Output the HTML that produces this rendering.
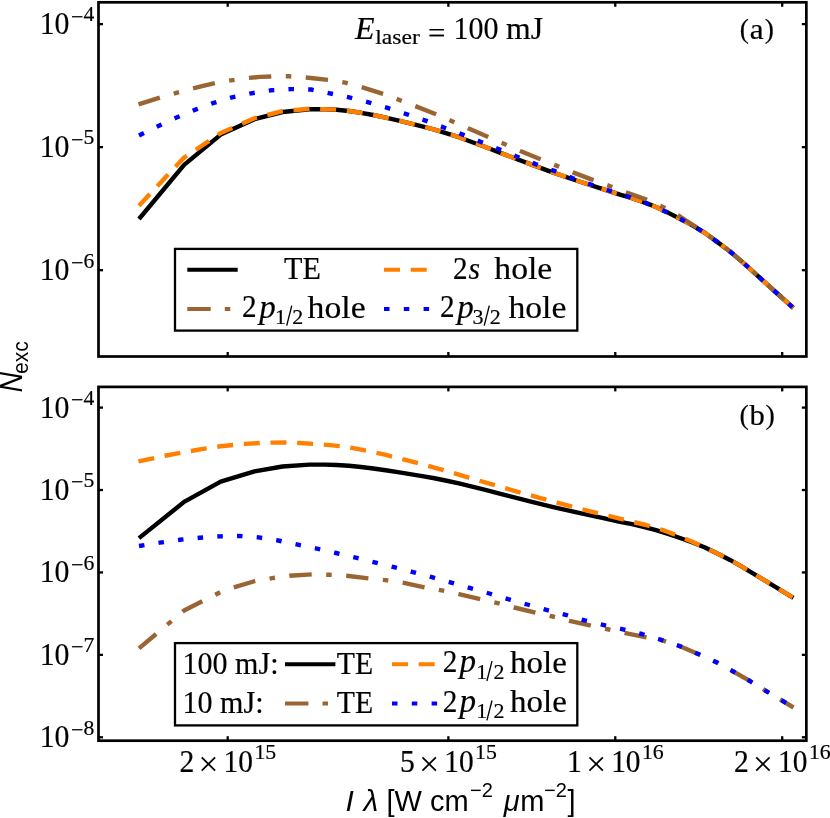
<!DOCTYPE html>
<html><head><meta charset="utf-8"><title>N_exc vs intensity</title>
<style>
html,body{margin:0;padding:0;background:#fff;}
body{width:830px;height:818px;overflow:hidden;font-family:"Liberation Serif",serif;}
svg{display:block;will-change:transform;transform:translateZ(0);}
</style></head>
<body>
<svg width="830" height="818" viewBox="0 0 830 818">
<rect x="0" y="0" width="830" height="818" fill="#ffffff"/>
<rect x="98.50" y="2.30" width="707.85" height="354.20" fill="none" stroke="#000" stroke-width="2.7"/>
<line x1="227.70" y1="2.30" x2="227.70" y2="6.80" stroke="#000" stroke-width="2.3"/>
<line x1="227.70" y1="356.50" x2="227.70" y2="352.00" stroke="#000" stroke-width="2.3"/>
<line x1="448.36" y1="2.30" x2="448.36" y2="6.80" stroke="#000" stroke-width="2.3"/>
<line x1="448.36" y1="356.50" x2="448.36" y2="352.00" stroke="#000" stroke-width="2.3"/>
<line x1="615.28" y1="2.30" x2="615.28" y2="6.80" stroke="#000" stroke-width="2.3"/>
<line x1="615.28" y1="356.50" x2="615.28" y2="352.00" stroke="#000" stroke-width="2.3"/>
<line x1="782.20" y1="2.30" x2="782.20" y2="6.80" stroke="#000" stroke-width="2.3"/>
<line x1="782.20" y1="356.50" x2="782.20" y2="352.00" stroke="#000" stroke-width="2.3"/>
<line x1="98.50" y1="24.10" x2="103.00" y2="24.10" stroke="#000" stroke-width="2.3"/>
<line x1="806.35" y1="24.10" x2="801.85" y2="24.10" stroke="#000" stroke-width="2.3"/>
<line x1="98.50" y1="147.15" x2="103.00" y2="147.15" stroke="#000" stroke-width="2.3"/>
<line x1="806.35" y1="147.15" x2="801.85" y2="147.15" stroke="#000" stroke-width="2.3"/>
<line x1="98.50" y1="270.20" x2="103.00" y2="270.20" stroke="#000" stroke-width="2.3"/>
<line x1="806.35" y1="270.20" x2="801.85" y2="270.20" stroke="#000" stroke-width="2.3"/>
<rect x="98.50" y="386.90" width="707.85" height="353.80" fill="none" stroke="#000" stroke-width="2.7"/>
<line x1="227.70" y1="386.90" x2="227.70" y2="391.40" stroke="#000" stroke-width="2.3"/>
<line x1="227.70" y1="740.70" x2="227.70" y2="736.20" stroke="#000" stroke-width="2.3"/>
<line x1="448.36" y1="386.90" x2="448.36" y2="391.40" stroke="#000" stroke-width="2.3"/>
<line x1="448.36" y1="740.70" x2="448.36" y2="736.20" stroke="#000" stroke-width="2.3"/>
<line x1="615.28" y1="386.90" x2="615.28" y2="391.40" stroke="#000" stroke-width="2.3"/>
<line x1="615.28" y1="740.70" x2="615.28" y2="736.20" stroke="#000" stroke-width="2.3"/>
<line x1="782.20" y1="386.90" x2="782.20" y2="391.40" stroke="#000" stroke-width="2.3"/>
<line x1="782.20" y1="740.70" x2="782.20" y2="736.20" stroke="#000" stroke-width="2.3"/>
<line x1="98.50" y1="407.60" x2="103.00" y2="407.60" stroke="#000" stroke-width="2.3"/>
<line x1="806.35" y1="407.60" x2="801.85" y2="407.60" stroke="#000" stroke-width="2.3"/>
<line x1="98.50" y1="490.02" x2="103.00" y2="490.02" stroke="#000" stroke-width="2.3"/>
<line x1="806.35" y1="490.02" x2="801.85" y2="490.02" stroke="#000" stroke-width="2.3"/>
<line x1="98.50" y1="572.44" x2="103.00" y2="572.44" stroke="#000" stroke-width="2.3"/>
<line x1="806.35" y1="572.44" x2="801.85" y2="572.44" stroke="#000" stroke-width="2.3"/>
<line x1="98.50" y1="654.86" x2="103.00" y2="654.86" stroke="#000" stroke-width="2.3"/>
<line x1="806.35" y1="654.86" x2="801.85" y2="654.86" stroke="#000" stroke-width="2.3"/>
<line x1="98.50" y1="737.28" x2="103.00" y2="737.28" stroke="#000" stroke-width="2.3"/>
<line x1="806.35" y1="737.28" x2="801.85" y2="737.28" stroke="#000" stroke-width="2.3"/>
<path d="M139.00 219.00 L184.10 164.90 L220.70 134.60 L254.50 119.20 L282.50 112.00 L309.50 109.30 L324.40 109.20 L336.70 109.70 L348.90 111.00 L361.10 112.80 L373.30 115.00 L385.60 117.70 L397.80 120.40 L410.00 123.30 L422.20 126.40 L434.50 129.60 L446.70 133.30 L458.90 137.20 L471.10 141.70 L483.40 146.30 L504.40 154.40 L528.90 163.65 L553.30 172.60 L577.80 181.00 L602.20 188.80 L620.00 194.60 L632.00 198.20 L644.40 202.40 L656.00 207.00 L668.90 213.10 L680.00 218.80 L693.30 225.85 L705.00 233.00 L717.80 242.35 L730.00 251.50 L742.20 261.90 L766.70 284.00 L793.40 308.00" fill="none" stroke="#000000" stroke-width="4.4" stroke-linejoin="round"/>
<path d="M139.00 205.80 L184.10 157.60 L220.70 133.00 L254.50 118.20 L282.50 111.20 L309.50 108.80 L324.40 109.20 L336.70 109.70 L348.90 111.00 L361.10 112.80 L373.30 115.00 L385.60 117.70 L397.80 120.40 L410.00 123.30 L422.20 126.40 L434.50 129.60 L446.70 133.30 L458.90 137.20 L471.10 141.70 L483.40 146.30 L504.40 154.40 L528.90 163.65 L553.30 172.60 L577.80 181.00 L602.20 188.80 L620.00 194.60 L632.00 198.20 L644.40 202.40 L656.00 207.00 L668.90 213.10 L680.00 218.80 L693.30 225.85 L705.00 233.00 L717.80 242.35 L730.00 251.50 L742.20 261.90 L766.70 284.00 L793.40 308.00" fill="none" stroke="#ff8000" stroke-width="4.4" stroke-linejoin="round" stroke-dasharray="16 10.7"/>
<path d="M138.50 104.40 L165.00 96.00 L184.10 90.60 L203.10 85.80 L220.70 81.80 L245.00 78.30 L260.00 76.90 L272.00 76.40 L288.70 76.30 L300.00 77.00 L313.20 78.20 L330.00 80.10 L345.20 82.60 L360.00 86.60 L385.00 94.40 L400.00 100.20 L416.00 106.40 L436.00 114.30 L452.00 121.20 L468.70 128.60 L488.50 137.20 L504.40 144.00 L520.30 151.00 L540.50 159.20 L557.00 165.90 L573.60 172.60 L592.00 179.60 L610.80 186.50 L626.70 192.60 L645.00 199.00 L664.00 207.50 L680.00 216.50 L690.00 223.00 L705.00 233.00 L717.80 242.35 L730.00 251.50 L742.20 261.90 L766.70 284.00 L793.40 308.00" fill="none" stroke="#996633" stroke-width="4.4" stroke-linejoin="round" stroke-dasharray="22.4 14.5 5.5 14.5"/>
<path d="M139.00 135.50 L158.40 126.00 L176.50 117.50 L194.80 109.90 L212.90 103.10 L232.00 97.40 L251.30 93.30 L270.90 90.30 L290.70 89.10 L311.00 89.50 L329.80 93.30 L349.10 97.40 L368.50 102.30 L387.50 107.90 L406.40 114.10 L424.90 120.40 L443.80 127.50 L462.10 134.40 L480.40 141.70 L498.40 149.00 L517.20 156.70 L535.70 164.10 L554.30 170.90 L572.90 178.20 L591.50 184.80 L610.10 191.00 L628.70 196.80 L647.50 203.70 L665.80 211.80 L680.00 218.80 L693.30 225.85 L705.00 233.00 L717.80 242.35 L730.00 251.50 L742.20 261.90 L766.70 284.00 L793.40 308.00" fill="none" stroke="#0000ff" stroke-width="4.4" stroke-linejoin="round" stroke-dasharray="5.5 14.23"/>
<path d="M139.00 538.15 L184.10 501.91 L220.70 481.61 L254.50 471.30 L282.50 466.48 L309.50 464.67 L324.40 464.60 L336.70 464.94 L348.90 465.81 L361.10 467.01 L373.30 468.49 L385.60 470.29 L397.80 472.10 L410.00 474.05 L422.20 476.12 L434.50 478.26 L446.70 480.74 L458.90 483.36 L471.10 486.37 L483.40 489.45 L504.40 494.88 L528.90 501.07 L553.30 507.07 L577.80 512.69 L602.20 517.92 L620.00 521.80 L632.00 524.21 L644.40 527.03 L656.00 530.11 L668.90 534.19 L680.00 538.01 L693.30 542.73 L705.00 547.52 L717.80 553.79 L730.00 559.91 L742.20 566.88 L766.70 581.68 L793.40 597.76" fill="none" stroke="#000000" stroke-width="4.4" stroke-linejoin="round"/>
<path d="M138.50 461.39 L165.00 455.76 L184.10 452.14 L203.10 448.93 L220.70 446.25 L245.00 443.90 L260.00 442.97 L272.00 442.63 L288.70 442.56 L300.00 443.03 L313.20 443.84 L330.00 445.11 L345.20 446.78 L360.00 449.46 L385.00 454.69 L400.00 458.57 L416.00 462.73 L436.00 468.02 L452.00 472.64 L468.70 477.60 L488.50 483.36 L504.40 487.91 L520.30 492.60 L540.50 498.09 L557.00 502.58 L573.60 507.07 L592.00 511.76 L610.80 516.38 L626.70 520.46 L645.00 524.75 L664.00 530.44 L680.00 536.47 L690.00 540.83 L705.00 547.52 L717.80 553.79 L730.00 559.91 L742.20 566.88 L766.70 581.68 L793.40 597.76" fill="none" stroke="#ff8000" stroke-width="4.4" stroke-linejoin="round" stroke-dasharray="16 10.7"/>
<path d="M139.00 648.40 L184.10 610.50 L220.70 592.00 L233.70 587.30 L255.20 581.00 L272.30 578.10 L289.40 575.70 L311.90 574.40 L329.30 574.80 L346.50 575.70 L368.90 578.40 L385.60 580.10 L402.70 582.60 L425.40 587.50 L441.80 590.40 L458.90 594.10 L480.90 599.20 L497.60 603.10 L514.20 607.50 L536.20 612.90 L552.90 616.50 L569.70 620.90 L591.70 625.80 L608.90 629.50 L625.50 633.20 L647.50 637.60 L661.10 639.90 L679.90 646.20 L698.20 654.00 L716.60 662.30 L733.70 671.70 L750.90 681.60 L767.50 691.90 L784.60 702.10 L793.50 707.50" fill="none" stroke="#996633" stroke-width="4.4" stroke-linejoin="round" stroke-dasharray="22.4 14.5 5.5 14.5"/>
<path d="M139.00 546.00 L159.90 542.70 L179.90 539.80 L199.50 537.80 L219.00 536.40 L239.10 535.90 L258.60 537.40 L278.20 540.50 L297.80 544.70 L316.70 548.60 L336.20 553.00 L355.70 557.70 L374.60 562.30 L394.10 567.20 L413.00 572.10 L432.00 577.20 L451.10 582.60 L470.40 588.20 L489.40 593.50 L508.10 599.20 L527.20 604.50 L546.50 609.90 L565.60 614.80 L584.60 620.40 L604.00 625.10 L623.00 629.30 L642.00 634.00 L661.10 639.90 L679.90 646.20 L698.20 654.00 L716.60 662.30 L733.70 671.70 L750.90 681.60 L767.50 691.90 L784.60 702.10 L793.50 707.50" fill="none" stroke="#0000ff" stroke-width="4.4" stroke-linejoin="round" stroke-dasharray="5.5 14.23"/>
<text x="39.70" y="34.00" font-family="'Liberation Serif', serif" font-size="30.7" textLength="29.80" lengthAdjust="spacingAndGlyphs" text-anchor="start" stroke="#000" stroke-width="0.2">10</text>
<text x="71.00" y="23.50" font-family="'Liberation Serif', serif" font-size="21.5" textLength="12.40" lengthAdjust="spacingAndGlyphs" text-anchor="start" stroke="#000" stroke-width="0.2">−</text>
<text x="83.60" y="21.40" font-family="'Liberation Serif', serif" font-size="21.5" textLength="10.80" lengthAdjust="spacingAndGlyphs" text-anchor="start" stroke="#000" stroke-width="0.2">4</text>
<text x="39.70" y="157.05" font-family="'Liberation Serif', serif" font-size="30.7" textLength="29.80" lengthAdjust="spacingAndGlyphs" text-anchor="start" stroke="#000" stroke-width="0.2">10</text>
<text x="71.00" y="146.55" font-family="'Liberation Serif', serif" font-size="21.5" textLength="12.40" lengthAdjust="spacingAndGlyphs" text-anchor="start" stroke="#000" stroke-width="0.2">−</text>
<text x="83.60" y="144.45" font-family="'Liberation Serif', serif" font-size="21.5" textLength="10.80" lengthAdjust="spacingAndGlyphs" text-anchor="start" stroke="#000" stroke-width="0.2">5</text>
<text x="39.70" y="280.10" font-family="'Liberation Serif', serif" font-size="30.7" textLength="29.80" lengthAdjust="spacingAndGlyphs" text-anchor="start" stroke="#000" stroke-width="0.2">10</text>
<text x="71.00" y="269.60" font-family="'Liberation Serif', serif" font-size="21.5" textLength="12.40" lengthAdjust="spacingAndGlyphs" text-anchor="start" stroke="#000" stroke-width="0.2">−</text>
<text x="83.60" y="267.50" font-family="'Liberation Serif', serif" font-size="21.5" textLength="10.80" lengthAdjust="spacingAndGlyphs" text-anchor="start" stroke="#000" stroke-width="0.2">6</text>
<text x="39.70" y="417.50" font-family="'Liberation Serif', serif" font-size="30.7" textLength="29.80" lengthAdjust="spacingAndGlyphs" text-anchor="start" stroke="#000" stroke-width="0.2">10</text>
<text x="71.00" y="407.00" font-family="'Liberation Serif', serif" font-size="21.5" textLength="12.40" lengthAdjust="spacingAndGlyphs" text-anchor="start" stroke="#000" stroke-width="0.2">−</text>
<text x="83.60" y="404.90" font-family="'Liberation Serif', serif" font-size="21.5" textLength="10.80" lengthAdjust="spacingAndGlyphs" text-anchor="start" stroke="#000" stroke-width="0.2">4</text>
<text x="39.70" y="499.92" font-family="'Liberation Serif', serif" font-size="30.7" textLength="29.80" lengthAdjust="spacingAndGlyphs" text-anchor="start" stroke="#000" stroke-width="0.2">10</text>
<text x="71.00" y="489.42" font-family="'Liberation Serif', serif" font-size="21.5" textLength="12.40" lengthAdjust="spacingAndGlyphs" text-anchor="start" stroke="#000" stroke-width="0.2">−</text>
<text x="83.60" y="487.32" font-family="'Liberation Serif', serif" font-size="21.5" textLength="10.80" lengthAdjust="spacingAndGlyphs" text-anchor="start" stroke="#000" stroke-width="0.2">5</text>
<text x="39.70" y="582.34" font-family="'Liberation Serif', serif" font-size="30.7" textLength="29.80" lengthAdjust="spacingAndGlyphs" text-anchor="start" stroke="#000" stroke-width="0.2">10</text>
<text x="71.00" y="571.84" font-family="'Liberation Serif', serif" font-size="21.5" textLength="12.40" lengthAdjust="spacingAndGlyphs" text-anchor="start" stroke="#000" stroke-width="0.2">−</text>
<text x="83.60" y="569.74" font-family="'Liberation Serif', serif" font-size="21.5" textLength="10.80" lengthAdjust="spacingAndGlyphs" text-anchor="start" stroke="#000" stroke-width="0.2">6</text>
<text x="39.70" y="664.76" font-family="'Liberation Serif', serif" font-size="30.7" textLength="29.80" lengthAdjust="spacingAndGlyphs" text-anchor="start" stroke="#000" stroke-width="0.2">10</text>
<text x="71.00" y="654.26" font-family="'Liberation Serif', serif" font-size="21.5" textLength="12.40" lengthAdjust="spacingAndGlyphs" text-anchor="start" stroke="#000" stroke-width="0.2">−</text>
<text x="83.60" y="652.16" font-family="'Liberation Serif', serif" font-size="21.5" textLength="10.80" lengthAdjust="spacingAndGlyphs" text-anchor="start" stroke="#000" stroke-width="0.2">7</text>
<text x="39.70" y="747.18" font-family="'Liberation Serif', serif" font-size="30.7" textLength="29.80" lengthAdjust="spacingAndGlyphs" text-anchor="start" stroke="#000" stroke-width="0.2">10</text>
<text x="71.00" y="736.68" font-family="'Liberation Serif', serif" font-size="21.5" textLength="12.40" lengthAdjust="spacingAndGlyphs" text-anchor="start" stroke="#000" stroke-width="0.2">−</text>
<text x="83.60" y="734.58" font-family="'Liberation Serif', serif" font-size="21.5" textLength="10.80" lengthAdjust="spacingAndGlyphs" text-anchor="start" stroke="#000" stroke-width="0.2">8</text>
<text x="179.40" y="771.80" font-family="'Liberation Serif', serif" font-size="30.5" textLength="14.80" lengthAdjust="spacingAndGlyphs" text-anchor="start" stroke="#000" stroke-width="0.2">2</text>
<text x="198.30" y="775.60" font-family="'Liberation Serif', serif" font-size="36" text-anchor="start">×</text>
<text x="223.60" y="771.80" font-family="'Liberation Serif', serif" font-size="30.5" textLength="29.40" lengthAdjust="spacingAndGlyphs" text-anchor="start" stroke="#000" stroke-width="0.2">10</text>
<text x="254.40" y="759.10" font-family="'Liberation Serif', serif" font-size="21.5" textLength="21.80" lengthAdjust="spacingAndGlyphs" text-anchor="start" stroke="#000" stroke-width="0.2">15</text>
<text x="400.06" y="771.80" font-family="'Liberation Serif', serif" font-size="30.5" textLength="14.80" lengthAdjust="spacingAndGlyphs" text-anchor="start" stroke="#000" stroke-width="0.2">5</text>
<text x="418.96" y="775.60" font-family="'Liberation Serif', serif" font-size="36" text-anchor="start">×</text>
<text x="444.26" y="771.80" font-family="'Liberation Serif', serif" font-size="30.5" textLength="29.40" lengthAdjust="spacingAndGlyphs" text-anchor="start" stroke="#000" stroke-width="0.2">10</text>
<text x="475.06" y="759.10" font-family="'Liberation Serif', serif" font-size="21.5" textLength="21.80" lengthAdjust="spacingAndGlyphs" text-anchor="start" stroke="#000" stroke-width="0.2">15</text>
<text x="566.98" y="771.80" font-family="'Liberation Serif', serif" font-size="30.5" textLength="14.80" lengthAdjust="spacingAndGlyphs" text-anchor="start" stroke="#000" stroke-width="0.2">1</text>
<text x="585.88" y="775.60" font-family="'Liberation Serif', serif" font-size="36" text-anchor="start">×</text>
<text x="611.18" y="771.80" font-family="'Liberation Serif', serif" font-size="30.5" textLength="29.40" lengthAdjust="spacingAndGlyphs" text-anchor="start" stroke="#000" stroke-width="0.2">10</text>
<text x="641.98" y="759.10" font-family="'Liberation Serif', serif" font-size="21.5" textLength="21.80" lengthAdjust="spacingAndGlyphs" text-anchor="start" stroke="#000" stroke-width="0.2">16</text>
<text x="733.90" y="771.80" font-family="'Liberation Serif', serif" font-size="30.5" textLength="14.80" lengthAdjust="spacingAndGlyphs" text-anchor="start" stroke="#000" stroke-width="0.2">2</text>
<text x="752.80" y="775.60" font-family="'Liberation Serif', serif" font-size="36" text-anchor="start">×</text>
<text x="778.10" y="771.80" font-family="'Liberation Serif', serif" font-size="30.5" textLength="29.40" lengthAdjust="spacingAndGlyphs" text-anchor="start" stroke="#000" stroke-width="0.2">10</text>
<text x="808.90" y="759.10" font-family="'Liberation Serif', serif" font-size="21.5" textLength="21.80" lengthAdjust="spacingAndGlyphs" text-anchor="start" stroke="#000" stroke-width="0.2">16</text>
<text x="355.00" y="39.00" font-family="'Liberation Serif', serif" font-size="32" font-style="italic" textLength="19.50" lengthAdjust="spacingAndGlyphs" text-anchor="start" stroke="#000" stroke-width="0.2">E</text>
<text x="375.30" y="44.00" font-family="'Liberation Serif', serif" font-size="21.5" textLength="44.50" lengthAdjust="spacingAndGlyphs" text-anchor="start" stroke="#000" stroke-width="0.2">laser</text>
<text x="428.00" y="42.50" font-family="'Liberation Serif', serif" font-size="30" textLength="17.50" lengthAdjust="spacingAndGlyphs" text-anchor="start" stroke="#000" stroke-width="0.2">=</text>
<text x="453.50" y="39.20" font-family="'Liberation Serif', serif" font-size="32" textLength="45.00" lengthAdjust="spacingAndGlyphs" text-anchor="start" stroke="#000" stroke-width="0.2">100</text>
<text x="506.00" y="39.20" font-family="'Liberation Serif', serif" font-size="32" textLength="37.00" lengthAdjust="spacingAndGlyphs" text-anchor="start" stroke="#000" stroke-width="0.2">mJ</text>
<text x="739.80" y="38.20" font-family="'Liberation Serif', serif" font-size="27.5" text-anchor="start" stroke="#000" stroke-width="0.2">(</text>
<text x="749.70" y="38.80" font-family="'Liberation Serif', serif" font-size="30" textLength="13.90" lengthAdjust="spacingAndGlyphs" text-anchor="start" stroke="#000" stroke-width="0.2">a</text>
<text x="764.70" y="38.20" font-family="'Liberation Serif', serif" font-size="27.5" text-anchor="start" stroke="#000" stroke-width="0.2">)</text>
<text x="739.40" y="424.00" font-family="'Liberation Serif', serif" font-size="28" text-anchor="start" stroke="#000" stroke-width="0.2">(</text>
<text x="749.40" y="425.20" font-family="'Liberation Serif', serif" font-size="30" textLength="15.30" lengthAdjust="spacingAndGlyphs" text-anchor="start" stroke="#000" stroke-width="0.2">b</text>
<text x="765.40" y="424.00" font-family="'Liberation Serif', serif" font-size="28" text-anchor="start" stroke="#000" stroke-width="0.2">)</text>
<rect x="175" y="248.9" width="402.3" height="81.7" fill="#fff" stroke="#000" stroke-width="2.3"/>
<line x1="187.30" y1="269.80" x2="237.70" y2="269.80" stroke="#000000" stroke-width="4.1"/>
<line x1="187.30" y1="309.00" x2="237.70" y2="309.00" stroke="#996633" stroke-width="4.1" stroke-dasharray="23.4 14.1 5.5 14.1"/>
<line x1="384.00" y1="269.80" x2="434.40" y2="269.80" stroke="#ff8000" stroke-width="4.1" stroke-dasharray="16 10.7"/>
<line x1="384.00" y1="309.00" x2="434.40" y2="309.00" stroke="#0000ff" stroke-width="4.1" stroke-dasharray="5.5 14.3"/>
<text x="284.00" y="279.40" font-family="'Liberation Serif', serif" font-size="32" textLength="36.80" lengthAdjust="spacingAndGlyphs" text-anchor="start" stroke="#000" stroke-width="0.2">TE</text>
<text x="453.00" y="279.40" font-family="'Liberation Serif', serif" font-size="30.5" textLength="14.60" lengthAdjust="spacingAndGlyphs" text-anchor="start" stroke="#000" stroke-width="0.2">2</text>
<text x="468.50" y="279.40" font-family="'Liberation Serif', serif" font-size="32" font-style="italic" textLength="11.50" lengthAdjust="spacingAndGlyphs" text-anchor="start" stroke="#000" stroke-width="0.2">s</text>
<text x="494.30" y="279.40" font-family="'Liberation Serif', serif" font-size="31" textLength="58.00" lengthAdjust="spacingAndGlyphs" text-anchor="start" stroke="#000" stroke-width="0.2">hole</text>
<text x="242.00" y="317.30" font-family="'Liberation Serif', serif" font-size="30.5" textLength="14.60" lengthAdjust="spacingAndGlyphs" text-anchor="start" stroke="#000" stroke-width="0.2">2</text>
<text x="259.20" y="317.50" font-family="'Liberation Serif', serif" font-size="33" font-style="italic" textLength="16.50" lengthAdjust="spacingAndGlyphs" text-anchor="start" stroke="#000" stroke-width="0.2">p</text>
<text x="275.00" y="323.50" font-family="'Liberation Serif', serif" font-size="22" text-anchor="start" stroke="#000" stroke-width="0.2">1</text>
<text x="292.30" y="323.50" font-family="'Liberation Serif', serif" font-size="22" text-anchor="start" stroke="#000" stroke-width="0.2">2</text>
<line x1="291.80" y1="305.70" x2="286.70" y2="325.60" stroke="#000" stroke-width="1.35"/>
<text x="307.60" y="317.50" font-family="'Liberation Serif', serif" font-size="31" textLength="58.00" lengthAdjust="spacingAndGlyphs" text-anchor="start" stroke="#000" stroke-width="0.2">hole</text>
<text x="440.00" y="317.30" font-family="'Liberation Serif', serif" font-size="30.5" textLength="14.60" lengthAdjust="spacingAndGlyphs" text-anchor="start" stroke="#000" stroke-width="0.2">2</text>
<text x="457.20" y="317.50" font-family="'Liberation Serif', serif" font-size="33" font-style="italic" textLength="16.50" lengthAdjust="spacingAndGlyphs" text-anchor="start" stroke="#000" stroke-width="0.2">p</text>
<text x="472.50" y="323.50" font-family="'Liberation Serif', serif" font-size="22" text-anchor="start" stroke="#000" stroke-width="0.2">3</text>
<text x="489.80" y="323.50" font-family="'Liberation Serif', serif" font-size="22" text-anchor="start" stroke="#000" stroke-width="0.2">2</text>
<line x1="489.30" y1="305.70" x2="484.20" y2="325.60" stroke="#000" stroke-width="1.35"/>
<text x="508.40" y="317.50" font-family="'Liberation Serif', serif" font-size="31" textLength="58.00" lengthAdjust="spacingAndGlyphs" text-anchor="start" stroke="#000" stroke-width="0.2">hole</text>
<rect x="175" y="643.1" width="402.3" height="82.3" fill="#fff" stroke="#000" stroke-width="2.3"/>
<text x="182.50" y="673.60" font-family="'Liberation Serif', serif" font-size="31" textLength="96.00" lengthAdjust="spacingAndGlyphs" text-anchor="start" stroke="#000" stroke-width="0.2">100 mJ:</text>
<text x="182.50" y="713.00" font-family="'Liberation Serif', serif" font-size="31" textLength="81.00" lengthAdjust="spacingAndGlyphs" text-anchor="start" stroke="#000" stroke-width="0.2">10 mJ:</text>
<line x1="285.00" y1="664.30" x2="335.40" y2="664.30" stroke="#000000" stroke-width="4.1"/>
<line x1="285.00" y1="703.50" x2="335.40" y2="703.50" stroke="#996633" stroke-width="4.1" stroke-dasharray="23.4 14.1 5.5 14.1"/>
<text x="336.80" y="673.50" font-family="'Liberation Serif', serif" font-size="30.5" textLength="36.30" lengthAdjust="spacingAndGlyphs" text-anchor="start" stroke="#000" stroke-width="0.2">TE</text>
<text x="336.80" y="712.80" font-family="'Liberation Serif', serif" font-size="30.5" textLength="36.30" lengthAdjust="spacingAndGlyphs" text-anchor="start" stroke="#000" stroke-width="0.2">TE</text>
<line x1="392.00" y1="664.30" x2="442.40" y2="664.30" stroke="#ff8000" stroke-width="4.1" stroke-dasharray="16 10.7"/>
<line x1="392.00" y1="703.50" x2="442.40" y2="703.50" stroke="#0000ff" stroke-width="4.1" stroke-dasharray="5.5 14.3"/>
<text x="442.80" y="672.30" font-family="'Liberation Serif', serif" font-size="30.5" textLength="14.60" lengthAdjust="spacingAndGlyphs" text-anchor="start" stroke="#000" stroke-width="0.2">2</text>
<text x="459.60" y="672.30" font-family="'Liberation Serif', serif" font-size="33" font-style="italic" textLength="16.50" lengthAdjust="spacingAndGlyphs" text-anchor="start" stroke="#000" stroke-width="0.2">p</text>
<text x="476.20" y="678.90" font-family="'Liberation Serif', serif" font-size="22" text-anchor="start" stroke="#000" stroke-width="0.2">1</text>
<text x="493.50" y="678.90" font-family="'Liberation Serif', serif" font-size="22" text-anchor="start" stroke="#000" stroke-width="0.2">2</text>
<line x1="492.00" y1="661.10" x2="486.90" y2="681.00" stroke="#000" stroke-width="1.35"/>
<text x="510.00" y="672.60" font-family="'Liberation Serif', serif" font-size="31" textLength="56.80" lengthAdjust="spacingAndGlyphs" text-anchor="start" stroke="#000" stroke-width="0.2">hole</text>
<text x="442.80" y="711.70" font-family="'Liberation Serif', serif" font-size="30.5" textLength="14.60" lengthAdjust="spacingAndGlyphs" text-anchor="start" stroke="#000" stroke-width="0.2">2</text>
<text x="459.60" y="711.70" font-family="'Liberation Serif', serif" font-size="33" font-style="italic" textLength="16.50" lengthAdjust="spacingAndGlyphs" text-anchor="start" stroke="#000" stroke-width="0.2">p</text>
<text x="476.20" y="718.30" font-family="'Liberation Serif', serif" font-size="22" text-anchor="start" stroke="#000" stroke-width="0.2">1</text>
<text x="493.50" y="718.30" font-family="'Liberation Serif', serif" font-size="22" text-anchor="start" stroke="#000" stroke-width="0.2">2</text>
<line x1="492.00" y1="700.50" x2="486.90" y2="720.40" stroke="#000" stroke-width="1.35"/>
<text x="510.00" y="712.00" font-family="'Liberation Serif', serif" font-size="31" textLength="56.80" lengthAdjust="spacingAndGlyphs" text-anchor="start" stroke="#000" stroke-width="0.2">hole</text>
<text x="345.60" y="811.00" font-family="'Liberation Sans', sans-serif" font-size="30" font-style="italic" text-anchor="start">I</text>
<text x="363.40" y="811.00" font-family="'Liberation Sans', sans-serif" font-size="30" font-style="italic" text-anchor="start">λ</text>
<text x="386.50" y="811.00" font-family="'Liberation Sans', sans-serif" font-size="29" text-anchor="start">[W cm</text>
<text x="470.00" y="797.00" font-family="'Liberation Sans', sans-serif" font-size="20" text-anchor="start">−2</text>
<text x="503.80" y="811.00" font-family="'Liberation Sans', sans-serif" font-size="29" font-style="italic" text-anchor="start">μ</text>
<text x="520.30" y="811.00" font-family="'Liberation Sans', sans-serif" font-size="29" text-anchor="start">m</text>
<text x="544.00" y="797.00" font-family="'Liberation Sans', sans-serif" font-size="20" text-anchor="start">−2</text>
<text x="567.50" y="811.00" font-family="'Liberation Sans', sans-serif" font-size="29" text-anchor="start">]</text>
<g transform="translate(21.8,392.6) rotate(-90)"><text x="0.00" y="0.00" font-family="'Liberation Sans', sans-serif" font-size="31" font-style="italic" textLength="20.60" lengthAdjust="spacingAndGlyphs" text-anchor="start">N</text><text x="18.60" y="6.40" font-family="'Liberation Sans', sans-serif" font-size="22" textLength="32.90" lengthAdjust="spacingAndGlyphs" text-anchor="start">exc</text></g>
</svg>
</body></html>
